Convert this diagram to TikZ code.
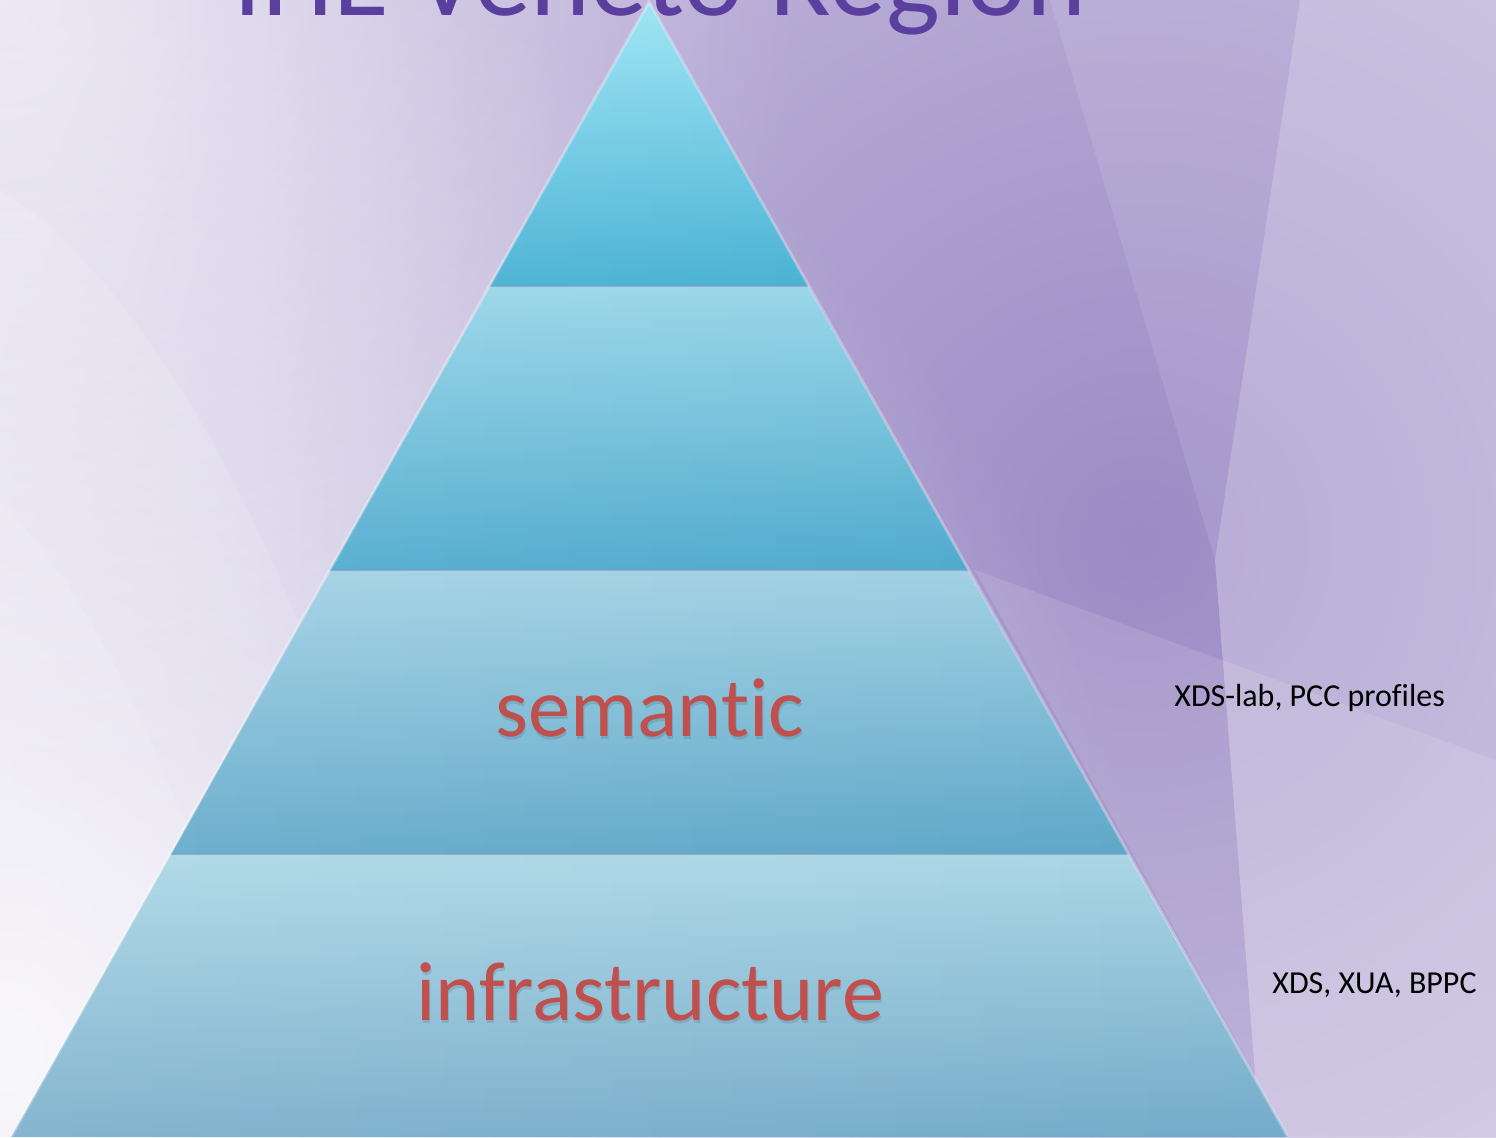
\documentclass[tikz,border=0pt]{standalone}
\usepackage{fontspec}
\setmainfont{Carlito}[Ligatures=NoCommon]
\usetikzlibrary{fadings}

\definecolor{titlepurple}{HTML}{5A3F9E}
\definecolor{wordred}{HTML}{C0504D}
\definecolor{bgbase}{HTML}{CCC3E2}
\definecolor{bgdark}{HTML}{9C8CC6}
\definecolor{tierAtop}{HTML}{9AE4F4}
\definecolor{tierAbot}{HTML}{42AFD2}
\definecolor{tierBtop}{HTML}{96D5E8}
\definecolor{tierBbot}{HTML}{4AA8CC}
\definecolor{tierCtop}{HTML}{9FD0E3}
\definecolor{tierCbot}{HTML}{5CA6C8}
\definecolor{tierDtop}{HTML}{A9D6E5}
\definecolor{tierDbot}{HTML}{74ABC9}
\definecolor{sepblue}{HTML}{7C9FC6}

\tikzfading[name=glow, inner color=transparent!0, outer color=transparent!100]

\tikzset{
  tierline/.style={draw=sepblue, line width=1pt, opacity=.7},
  slopelight/.style={draw=white, line width=1.5pt, opacity=.3},
  tierword/.style={text=wordred, font=\fontsize{42}{48}\selectfont, anchor=base, inner sep=0pt},
  sidenote/.style={text=black, font=\fontsize{16}{19}\selectfont, anchor=base west, inner sep=0pt},
}

\begin{document}
\begin{tikzpicture}[x=0.5pt, y=-0.5pt]
    \useasboundingbox (0,0) rectangle (1496,1137);
    \clip (0,0) rectangle (1496,1137);

    % background
    \fill[bgbase] (0,0) rectangle (1496,1137);
    \fill[bgdark, path fading=glow] (1140,540) circle (1150);
    \fill[white, opacity=.85, path fading=glow] (0,1050) circle (1150);
    \fill[white, opacity=.6, path fading=glow] (0,0) circle (800);
    \fill[white, opacity=.12] (0,190) .. controls (200,320) and (360,700) .. (450,1137) -- (0,1137) -- cycle;
    \fill[white, opacity=.12] (0,500) .. controls (120,620) and (230,900) .. (270,1137) -- (0,1137) -- cycle;
    \fill[white, opacity=.1] (1050,0) -- (1300,0) -- (1215,560) -- cycle;
    \fill[white, opacity=.28] (1300,0) -- (1496,0) -- (1496,1137) -- (1260,1137) -- (1215,560) -- cycle;
    \fill[white, opacity=.12] (975,570) -- (1496,760) -- (1496,1137) -- (1290,1137) -- cycle;

    % title, cut by the top edge
    \node[text=titlepurple, font=\fontsize{57}{64}\selectfont, anchor=base, inner sep=0pt] (title) at (660,15) {IHE Veneto Region};

    % pyramid corners
    \coordinate (apex) at (649,2);
    \coordinate (l1) at (490,286);  \coordinate (r1) at (808,286);
    \coordinate (l2) at (330,570);  \coordinate (r2) at (968,570);
    \coordinate (l3) at (171,854);  \coordinate (r3) at (1128,854);
    \coordinate (l4) at (11,1137);  \coordinate (r4) at (1288,1137);

    % tiers
    \shade[top color=tierAtop, bottom color=tierAbot] (apex) -- (r1) -- (l1) -- cycle;
    \shade[top color=tierBtop, bottom color=tierBbot] (l1) -- (r1) -- (r2) -- (l2) -- cycle;
    \shade[top color=tierCtop, bottom color=tierCbot] (l2) -- (r2) -- (r3) -- (l3) -- cycle;
    \shade[top color=tierDtop, bottom color=tierDbot] (l3) -- (r3) -- (r4) -- (l4) -- cycle;
    \fill[white, opacity=.12, path fading=east] (l4) -- (apex) -- (r4) -- cycle;

    \draw[tierline] (l1) -- (r1);
    \draw[tierline] (l2) -- (r2);
    \draw[tierline] (l3) -- (r3);
    \draw[slopelight] (l4) -- (apex) -- (r4);

    % tier labels
    \node[tierword, text=black, opacity=.1] (semanticShadow) at (651,739) {semantic};
    \node[tierword] (semantic) at (650,736) {semantic};
    \node[tierword, text=black, opacity=.1] (infraShadow) at (651,1023) {infrastructure};
    \node[tierword] (infra) at (650,1020) {infrastructure};

    % profiles beside the pyramid
    \node[sidenote] (semNote) at (1174,706) {XDS-lab, PCC profiles};
    \node[sidenote] (infraNote) at (1272,993) {XDS, XUA, BPPC};
\end{tikzpicture}
\end{document}
